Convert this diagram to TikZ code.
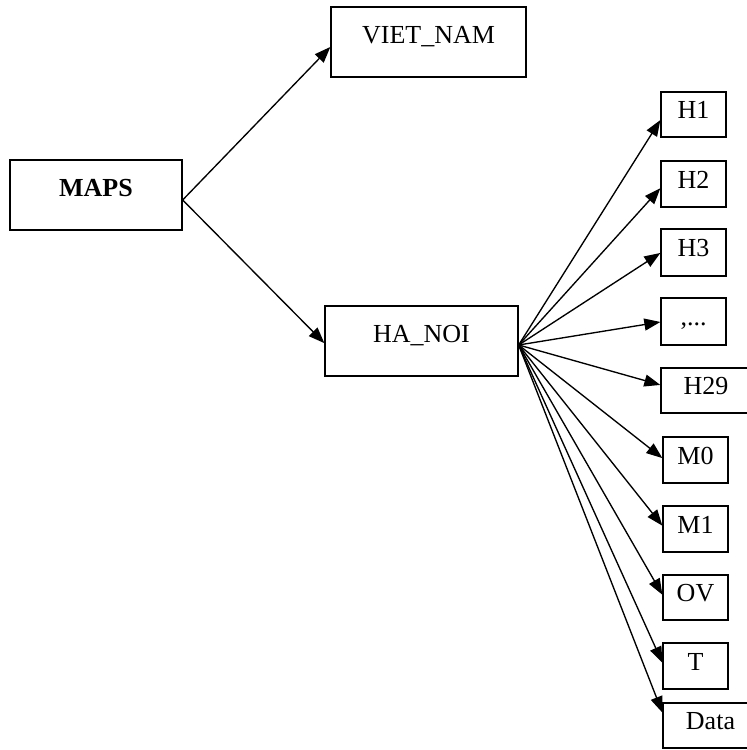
\documentclass[tikz,border=0pt]{standalone}
\usepackage{fontspec}
\setmainfont{Liberation Serif}
\usetikzlibrary{arrows.meta,calc}
\begin{document}
\begin{tikzpicture}[x=1bp,y=1bp,
  box/.style={draw, line width=1.3bp, inner sep=0pt, font=\fontsize{26bp}{31bp}\selectfont, text height=17.5bp},
  bigbox/.style={box, minimum height=70bp, text depth=14.4bp},
  smallbox/.style={box, minimum height=46bp, text depth=9.4bp},
  arr/.style={line width=1.35bp, -{Triangle[length=16bp,width=12bp]}}]
\clip (0,0) rectangle (747,750);
\node[bigbox, minimum width=172bp, font=\fontsize{26bp}{31bp}\selectfont\bfseries] (maps) at (96,555) {MAPS};
\node[bigbox, minimum width=195bp] (viet) at (428.5,708) {VIET\_NAM};
\node[bigbox, minimum width=193bp] (hanoi) at (421.5,409) {HA\_NOI};
\node[smallbox, minimum width=65bp, minimum height=45bp] (h1) at (693.5,635.5) {H1};
\node[smallbox, minimum width=65bp] (h2) at (693.5,566) {H2};
\node[smallbox, minimum width=65bp, minimum height=47bp] (h3) at (693.5,497.5) {H3};
\node[smallbox, minimum width=65bp, minimum height=47bp] (dots) at (693.5,428.5) {,...};
\node[smallbox, minimum width=90bp, minimum height=45bp] (h29) at (706,359.5) {H29};
\node[smallbox, minimum width=65bp] (m0) at (695.5,290) {M0};
\node[smallbox, minimum width=65bp] (m1) at (695.5,221) {M1};
\node[smallbox, minimum width=65bp, minimum height=45bp] (ov) at (695.5,152.5) {OV};
\node[smallbox, minimum width=65bp] (t) at (695.5,84) {T};
\node[smallbox, minimum width=95bp, minimum height=45bp] (data) at (710.5,24.5) {Data};
\coordinate (ms) at ([yshift=-5bp]maps.east);
\coordinate (fan) at ([yshift=-4bp]hanoi.east);
\draw[arr] (ms) -- ($(viet.north west)!0.57!(viet.south west)$);
\draw[arr] (ms) -- ($(hanoi.north west)!0.53!(hanoi.south west)$);
\draw[arr] (fan) -- ($(h1.north west)!0.62!(h1.south west)$);
\draw[arr] (fan) -- ($(h2.north west)!0.59!(h2.south west)$);
\draw[arr] (fan) -- ($(h3.north west)!0.51!(h3.south west)$);
\draw[arr] (fan) -- ($(dots.north west)!0.51!(dots.south west)$);
\draw[arr] (fan) -- ($(h29.north west)!0.38!(h29.south west)$);
\draw[arr] (fan) -- ($(m0.north west)!0.46!(m0.south west)$);
\draw[arr] (fan) -- ($(m1.north west)!0.43!(m1.south west)$);
\draw[arr] (fan) -- ($(ov.north west)!0.44!(ov.south west)$);
\draw[arr] (fan) -- ($(t.north west)!0.43!(t.south west)$);
\draw[arr] (fan) -- ($(data.north west)!0.22!(data.south west)$);
\end{tikzpicture}
\end{document}
